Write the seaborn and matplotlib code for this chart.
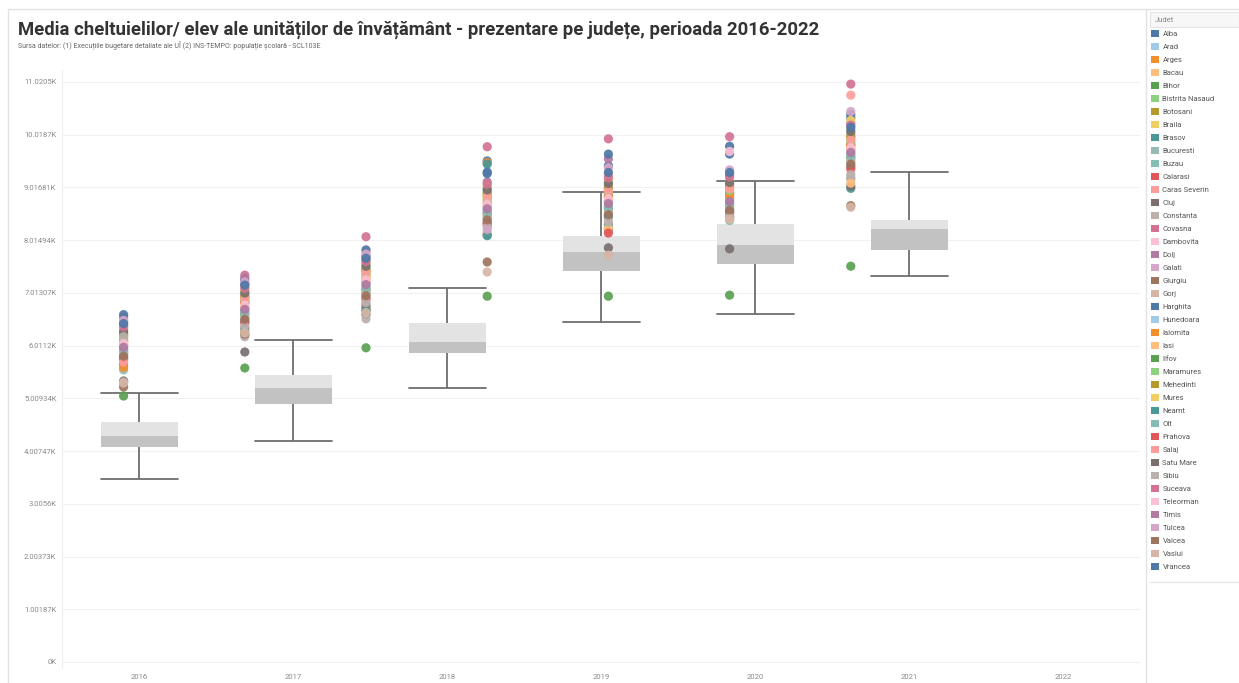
import numpy as np
import pandas as pd
import matplotlib
matplotlib.use("Agg")
import matplotlib.pyplot as plt
from matplotlib.patches import Patch, Rectangle
from matplotlib.lines import Line2D
import seaborn as sns

years = ["2016", "2017", "2018", "2019", "2020", "2021", "2022"]

# box plot summary per year (no box for 2022)
box_years = ["2016", "2017", "2018", "2019", "2020", "2021"]
box_low = [3477, 4199, 5206, 6460, 6612, 7334]
box_q1 = [4085, 4902, 5871, 7429, 7562, 7828]
box_med = [4294, 5206, 6080, 7790, 7923, 8227]
box_q3 = [4560, 5453, 6441, 8094, 8322, 8398]
box_high = [5111, 6118, 7106, 8930, 9139, 9310]

judete = ["Alba", "Arad", "Arges", "Bacau", "Bihor", "Bistrita Nasaud", "Botosani", "Braila",
          "Brasov", "Bucuresti", "Buzau", "Calarasi", "Caras Severin", "Cluj", "Constanta",
          "Covasna", "Dambovita", "Dolj", "Galati", "Giurgiu", "Gorj", "Harghita", "Hunedoara",
          "Ialomita", "Iasi", "Ilfov", "Maramures", "Mehedinti", "Mures", "Neamt", "Olt",
          "Prahova", "Salaj", "Satu Mare", "Sibiu", "Suceava", "Teleorman", "Timis", "Tulcea",
          "Valcea", "Vaslui", "Vrancea"]

v2016 = [6460, 5950, 6020, 5880, 5900, 6310, 6200, 6120, 5660, 5550, 5860, 6100, 6520, 5340,
         5320, 6560, 5730, 6400, 6000, 5225, 5840, 6600, 6250, 5600, 6070, 5054, 6150, 6230,
         6340, 5790, 5930, 5760, 5700, 6280, 6180, 6370, 6050, 5980, 6490, 5810, 5300, 6430]
v2017 = [7260, 6680, 6280, 6600, 6620, 7040, 6930, 6850, 6340, 6210, 6570, 6830, 7130, 5890,
         6180, 7350, 6420, 7300, 6730, 6230, 6540, 7190, 6980, 6800, 6750, 5586, 6880, 6950,
         7070, 6480, 6650, 6450, 6900, 7010, 6380, 7100, 6780, 6700, 7220, 6510, 6250, 7160]
v2018 = [7710, 7140, 7230, 7050, 7080, 7550, 7430, 7350, 6790, 6930, 7020, 6740, 7790, 6600,
         6520, 8080, 6870, 7640, 7200, 6680, 6990, 7830, 7490, 7290, 7320, 5970, 7380, 7460,
         7580, 6690, 7110, 6900, 7400, 7520, 6830, 7610, 7260, 7170, 7750, 6960, 6640, 7670]
v2019 = [9520, 8580, 9490, 8490, 8520, 9000, 8880, 8790, 9460, 8370, 8460, 8310, 8670, 8120,
         8160, 9790, 8760, 9120, 8640, 7600, 8430, 9310, 8940, 8730, 8160, 6950, 8820, 8910,
         9040, 8100, 8550, 8340, 8850, 8970, 8270, 9080, 8700, 8610, 8220, 8400, 7410, 9280]
v2020 = [9430, 8680, 8770, 8590, 8620, 9130, 8980, 8890, 8310, 8440, 8560, 8860, 9250, 7870,
         8200, 9940, 8400, 9560, 8740, 8230, 8530, 9650, 9050, 8830, 8240, 6950, 8920, 9010,
         9170, 8470, 8650, 8150, 8950, 9090, 8360, 9200, 8800, 8710, 9390, 8500, 7730, 9300]
v2021 = [9650, 8720, 8810, 8650, 8680, 9140, 9020, 8930, 8450, 8620, 8390, 8900, 8840, 7850,
         8480, 9980, 8510, 9260, 8780, 8450, 8600, 9800, 9080, 8870, 8420, 6970, 8960, 9050,
         9180, 8560, 8700, 8540, 8990, 9110, 8480, 9220, 9700, 8750, 9350, 8580, 8420, 9300]
v2022 = [10340, 9650, 9740, 9560, 9590, 10120, 9960, 9860, 9000, 9200, 9530, 9830, 10770, 9040,
         9180, 10980, 9330, 10240, 9710, 8670, 9500, 10400, 10040, 9800, 9100, 7520, 9890, 10000,
         10290, 9420, 9620, 9380, 9920, 10080, 9260, 10200, 9770, 9680, 10460, 9460, 8640, 10160]

y_tick_labels = ["0K", "1.00187K", "2.00373K", "3.0056K", "4.00747K", "5.00934K", "6.0112K",
                 "7.01307K", "8.01494K", "9.01681K", "10.0187K", "11.0205K"]
y_tick_step = 1001.8673

# the dot columns sit on their own spacing, offset from the boxes
dot_x0 = -0.10
dot_step = 0.787

tableau = ["#4E79A7", "#A0CBE8", "#F28E2B", "#FFBE7D", "#59A14F", "#8CD17D", "#B6992D",
           "#F1CE63", "#499894", "#86BCB6", "#E15759", "#FF9D9A", "#79706E", "#BAB0AC",
           "#D37295", "#FABFD2", "#B07AA1", "#D4A6C8", "#9D7660", "#D7B5A6"]
culori = tableau[:9] + ["#98BAB4"] + tableau[9:] + tableau + tableau[:1]

sns.set_theme(style="white")
plt.rcParams["font.family"] = ["Roboto", "DejaVu Sans"]

W, H = 1239, 683
fig = plt.figure(figsize=(W / 100, H / 100), dpi=100)
ax = fig.add_axes([62 / W, 1 - 668 / H, (1140 - 62) / W, (668 - 70) / H])

box_df = pd.DataFrame({
    "an": np.repeat(box_years, 5),
    "valoare": np.column_stack([box_low, box_q1, box_med, box_q3, box_high]).ravel(),
})
sns.boxplot(data=box_df, x="an", y="valoare", order=years, whis=(0, 100), width=0.5,
            color="#e3e3e3", saturation=1, linewidth=1.3, linecolor="#6e6e6e",
            boxprops=dict(edgecolor="none"), medianprops=dict(visible=False),
            capwidths=0.5, ax=ax)
# darker lower half of the box (q1 -> median)
ax.bar(np.arange(len(box_years)), np.subtract(box_med, box_q1), bottom=box_q1,
       width=0.5, color="#c2c2c2", edgecolor="none", linewidth=0, zorder=2.5)

dots = pd.DataFrame({
    "judet": judete * len(years),
    "an": np.repeat(years, len(judete)),
    "valoare": v2016 + v2017 + v2018 + v2019 + v2020 + v2021 + v2022,
})
dots["pozitie"] = dot_x0 + dots["an"].map(years.index) * dot_step
sns.scatterplot(data=dots, x="pozitie", y="valoare", hue="judet", hue_order=judete,
                palette=culori, s=44, linewidth=0, alpha=0.92, legend=False, ax=ax, zorder=3)

ax.set_xlim(-0.5, 6.5)
ax.set_ylim(-114, 11248)
ax.set_yticks([i * y_tick_step for i in range(len(y_tick_labels))])
ax.set_yticklabels(y_tick_labels)
ax.set_xticks(range(len(years)))
ax.set_xticklabels(years)
ax.set_xlabel("")
ax.set_ylabel("")
ax.tick_params(axis="both", length=0, labelsize=5.5, labelcolor="#8a8a8a")
ax.tick_params(axis="y", pad=4)
ax.tick_params(axis="x", pad=4)
ax.grid(axis="y", color="#f1f1f1", linewidth=0.8)
ax.set_axisbelow(True)
for side in ["top", "right", "bottom"]:
    ax.spines[side].set_visible(False)
ax.spines["left"].set_color("#eeeeee")
ax.spines["left"].set_linewidth(0.8)

fig.text(18 / W, 1 - 30 / H,
         "Media cheltuielilor/ elev ale unităților de învățământ - prezentare pe județe, perioada 2016-2022",
         fontsize=13.3, fontweight="bold", color="#333333", va="center", ha="left")
fig.text(18 / W, 1 - 46 / H,
         "Sursa datelor: (1) Execuțiile bugetare detaliate ale UÎ (2) INS-TEMPO: populație școlară - SCL103E",
         fontsize=5, color="#666666", va="center", ha="left")

# dashboard frame lines
fig.add_artist(Line2D([8 / W, 1], [1 - 9 / H, 1 - 9 / H], transform=fig.transFigure, color="#e2e2e2", lw=1))
fig.add_artist(Line2D([8 / W, 8 / W], [0, 1 - 9 / H], transform=fig.transFigure, color="#e2e2e2", lw=1))
fig.add_artist(Line2D([1146 / W, 1146 / W], [0, 1 - 9 / H], transform=fig.transFigure, color="#e2e2e2", lw=1))
fig.add_artist(Line2D([1150 / W, 1], [1 - 582 / H, 1 - 582 / H], transform=fig.transFigure, color="#e6e6e6", lw=1))

# legend
fig.add_artist(Rectangle((1150 / W, 1 - 27 / H), (W - 1150) / W, 15 / H, transform=fig.transFigure,
                         facecolor="#f7f7f7", edgecolor="#e4e4e4", lw=0.8))
fig.text(1155 / W, 1 - 19.5 / H, "Judet", fontsize=5.5, color="#8a8a8a", va="center", ha="left")
handles = [Patch(facecolor=c, edgecolor="none") for c in culori]
fig.legend(handles, judete, loc="upper left", bbox_to_anchor=(1151 / W, 1 - 30 / H),
           frameon=False, fontsize=5.5, handlelength=1.0, handleheight=1.0, handletextpad=0.5,
           labelspacing=0.78, borderaxespad=0, borderpad=0, labelcolor="#555555")

fig.savefig("out.png", dpi=100)
